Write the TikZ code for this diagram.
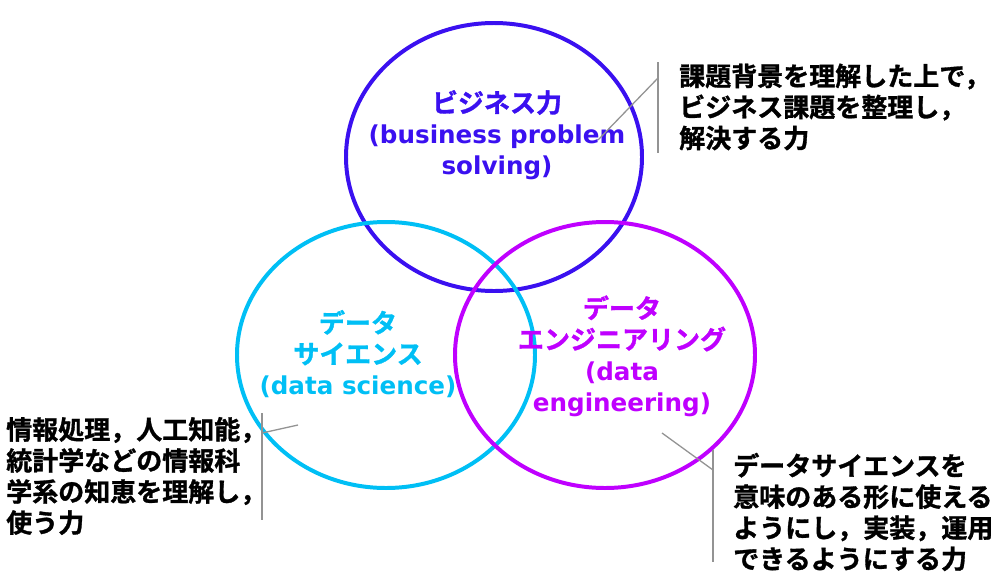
\documentclass[tikz,border=0pt]{standalone}
\usepackage{fontspec}
\newfontfamily\jpfont{Noto Sans CJK JP}[BoldFont={* Bold}, BoldFeatures={FakeBold=1.2}]
\newfontfamily\latfont{DejaVu Sans}
\usetikzlibrary{positioning}

\definecolor{bizblue}{HTML}{3A10F0}
\definecolor{sciblue}{HTML}{00BFF5}
\definecolor{engpurple}{HTML}{BF00FF}

\newcommand{\lat}[1]{{\latfont\bfseries\fontsize{21}{26.5}\selectfont #1}}

\begin{document}
\begin{tikzpicture}[x=0.03cm, y=-0.03cm,
    ring/.style={line width=3.4pt},
    lbl/.style={font=\jpfont\bfseries\fontsize{22.2}{26.5}\selectfont, align=center, inner sep=0pt},
    note/.style={font=\jpfont\bfseries\fontsize{22.2}{26.5}\selectfont, align=left, inner sep=0pt, anchor=west},
    lead/.style={draw=gray!85, line width=1.1pt}]
\useasboundingbox (0,0) rectangle (1000,579);

% === Circles ===
\draw[ring, draw=bizblue]   (494,157) ellipse [x radius=148, y radius=134];
\draw[ring, draw=sciblue]   (386,355) ellipse [x radius=149, y radius=133];
\draw[ring, draw=engpurple] (605,355) ellipse [x radius=150, y radius=133];

% === Circle labels ===
\node[lbl, text=bizblue]   (biz) at (497,135) {ビジネス力\\\lat{(business problem}\\\lat{solving)}};
\node[lbl, text=sciblue]   (sci) at (358,354) {データ\\サイエンス\\\lat{(data science)}};
\node[lbl, text=engpurple] (eng) at (622,356) {データ\\エンジニアリング\\\lat{(data}\\\lat{engineering)}};

% === Notes ===
\node[note] (nbiz) at (679,107) {課題背景を理解した上で，\\ビジネス課題を整理し，\\解決する力};
\node[note] (nsci) at (6,476)   {情報処理，人工知能，\\統計学などの情報科\\学系の知恵を理解し，\\使う力};
\node[note] (neng) at (733,512) {データサイエンスを\\意味のある形に使える\\ようにし，実装，運用\\できるようにする力};

% === Leader lines ===
\coordinate (bt) at (658,62);  \coordinate (bb) at (658,153);
\coordinate (bk) at (658,78);  \coordinate (bp) at (598,140);
\coordinate (st) at (262,413); \coordinate (sb) at (262,520);
\coordinate (sk) at (262,433); \coordinate (sp) at (298,425);
\coordinate (et) at (713,450); \coordinate (eb) at (713,562);
\coordinate (ek) at (713,470); \coordinate (ep) at (662,433);
\draw[lead] (bt) -- (bb);
\draw[lead] (bk) -- (bp);
\draw[lead] (st) -- (sb);
\draw[lead] (sk) -- (sp);
\draw[lead] (et) -- (eb);
\draw[lead] (ek) -- (ep);

\end{tikzpicture}
\end{document}
